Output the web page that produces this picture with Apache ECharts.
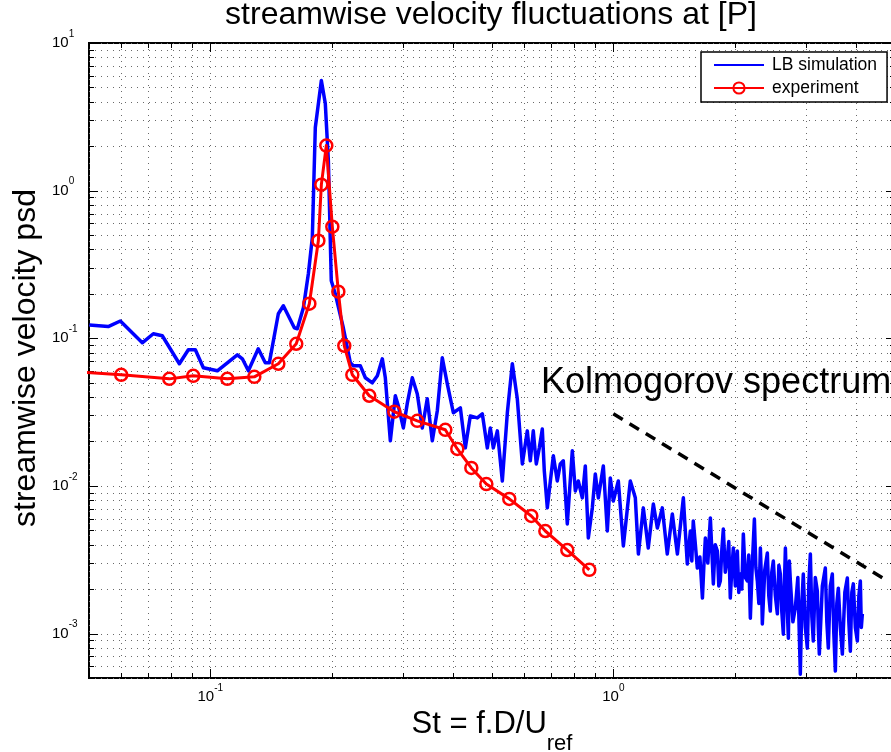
<!DOCTYPE html>
<html><head><meta charset="utf-8">
<script src="https://cdn.jsdelivr.net/npm/echarts@6/dist/echarts.min.js"></script>
<style>html,body{margin:0;padding:0;background:#fff}#c{width:891px;height:752px}</style>
</head><body><div id="c"></div>
<script>
// ---- data ----
const titleText = 'streamwise velocity fluctuations at [P]';
const yName = 'streamwise velocity psd';
const annotation = 'Kolmogorov spectrum';
const seriesNames = ['LB simulation', 'experiment'];

// LB simulation: [St, psd]
const lbSimulation = [
[0.0501,0.123],[0.0558,0.120],[0.0598,0.131],[0.0678,0.0932],[0.0722,0.1073],[0.0760,0.104],
[0.0838,0.0672],[0.0882,0.0836],[0.0918,0.0836],[0.0961,0.0631],[0.1041,0.0602],[0.1167,0.0773],
[0.1201,0.0726],[0.1243,0.0602],[0.1315,0.0849],[0.1369,0.0682],[0.1401,0.0682],[0.1475,0.1466],
[0.1518,0.1661],[0.1616,0.1178],[0.1644,0.116],[0.1702,0.161],[0.1751,0.2737],[0.1791,0.48],
[0.1822,2.674],[0.1886,5.57],[0.1929,3.89],[0.1963,1.597],[0.1996,0.2454],[0.2042,0.2003],
[0.2138,0.1178],[0.2226,0.0682],[0.2264,0.0651],[0.2357,0.0651],[0.2425,0.054],[0.2523,0.0499],
[0.2597,0.0557],[0.2672,0.0726],[0.2718,0.054],[0.2797,0.0202],[0.2878,0.0408],[0.2928,0.0349],
[0.3013,0.0247],[0.3083,0.0365],[0.3171,0.054],[0.3263,0.0420],[0.3357,0.0247],[0.3454,0.0389],
[0.3555,0.0202],[0.3658,0.0323],[0.3764,0.0738],[0.3873,0.0491],[0.4009,0.0313],[0.4173,0.0338],
[0.4293,0.0181],[0.4417,0.0298],[0.4597,0.0289],[0.4731,0.0308],[0.4868,0.0181],[0.4952,0.0247],
[0.5038,0.0181],[0.5155,0.0236],[0.5304,0.0108],[0.5458,0.0313],[0.5616,0.0672],[0.5778,0.0389],
[0.5946,0.0141],[0.6118,0.0236],[0.6223,0.0148],[0.6330,0.0236],[0.6440,0.0141],[0.6552,0.0181],
[0.6665,0.0243],[0.6742,0.0126],[0.6859,0.0071],[0.6979,0.0108],[0.7099,0.0160],[0.7261,0.0108],
[0.7387,0.0141],[0.7515,0.0148],[0.7688,0.00553],[0.7911,0.0173],[0.8049,0.00925],[0.8187,0.0108],
[0.8376,0.0083],[0.8521,0.01366],[0.8669,0.00444],[0.8869,0.0071],[0.9022,0.01206],[0.9180,0.0083],
[0.9445,0.01366],[0.9663,0.00495],[0.9830,0.01133],[1.000,0.00791],[1.029,0.0108],[1.059,0.00392],
[1.102,0.0108],[1.134,0.0083],[1.154,0.00346],[1.187,0.0071],[1.221,0.0038],[1.257,0.00755],
[1.286,0.00519],[1.323,0.0071],[1.361,0.00346],[1.401,0.00646],[1.442,0.00346],[1.492,0.0083],
[1.526,0.00296],[1.553,0.00495],[1.566,0.0031],[1.579,0.00579],[1.597,0.0041],[1.616,0.00278],
[1.640,0.0033],[1.664,0.00174],[1.678,0.0029],[1.692,0.00444],[1.716,0.0030],[1.741,0.00607],
[1.756,0.0036],[1.771,0.00217],[1.790,0.0040],[1.812,0.00362],[1.827,0.0021],[1.843,0.00227],
[1.859,0.0037],[1.875,0.00511],[1.896,0.0026],[1.918,0.00325],[1.934,0.0042],[1.951,0.00174],
[1.968,0.0027],[1.985,0.0038],[2.008,0.0021],[2.031,0.00362],[2.048,0.0019],[2.066,0.00253],
[2.084,0.0020],[2.102,0.00473],[2.126,0.0024],[2.150,0.00227],[2.168,0.0034],[2.188,0.00127],
[2.213,0.0030],[2.239,0.00597],[2.258,0.0028],[2.277,0.00227],[2.297,0.0016],[2.317,0.0038],
[2.330,0.0024],[2.343,0.00116],[2.376,0.0027],[2.411,0.00351],[2.431,0.0018],[2.452,0.00142],
[2.473,0.0026],[2.495,0.0031],[2.524,0.0018],[2.553,0.00136],[2.575,0.0029],[2.597,0.00253],
[2.619,0.0014],[2.642,0.00099],[2.657,0.0021],[2.673,0.0038],[2.696,0.0017],[2.719,0.00093],
[2.734,0.0031],[2.750,0.00227],[2.790,0.0012],[2.829,0.00149],[2.870,0.0024],[2.911,0.000531],
[2.936,0.0016],[2.961,0.00253],[2.995,0.0011],[3.030,0.000797],[3.056,0.0022],[3.083,0.00346],
[3.109,0.0013],[3.135,0.00089],[3.171,0.0024],[3.208,0.00194],[3.226,0.0011],[3.245,0.000726],
[3.301,0.0021],[3.358,0.00278],[3.387,0.0012],[3.416,0.000797],[3.455,0.0021],[3.495,0.00253],
[3.525,0.0010],[3.556,0.000557],[3.586,0.0016],[3.617,0.00203],[3.659,0.0011],[3.701,0.000726],
[3.754,0.0019],[3.808,0.00238],[3.841,0.0012],[3.874,0.00076],[3.907,0.0019],[3.941,0.00217],
[3.986,0.0011],[4.032,0.00089],[4.067,0.0018],[4.102,0.00227],[4.125,0.0011],[4.149,0.00136]
];

// experiment: [St, psd]
const experiment = [
[0.045,0.0597],[0.0601,0.0566],[0.0791,0.0531],[0.0907,0.0557],[0.1102,0.0531],[0.1286,0.0548],
[0.1475,0.0672],[0.1634,0.0918],[0.1761,0.1714],[0.1854,0.458],[0.1886,1.098],[0.194,2.019],
[0.2008,0.570],[0.2078,0.2067],[0.2150,0.0890],[0.2251,0.0566],[0.2480,0.0408],[0.2861,0.0318],
[0.3263,0.0276],[0.3829,0.0240],[0.4101,0.0178],[0.4443,0.01324],[0.4841,0.0103],[0.5519,0.00817],
[0.6259,0.00626],[0.6781,0.00495],[0.7688,0.00368],[0.8719,0.00270]
];

// Kolmogorov -5/3 reference line
const kolmogorov = [[1.0,0.0308],[4.65,0.00239]];

// axis ranges
const xRange = [0.05, 5];
const yRange = [0.0005, 10];

// grid / tick positions (1..9 x 10^k inside the ranges)
function decadeTicks(lo, hi){
  const out = [];
  for (let e = -5; e <= 2; e++) for (let m = 1; m <= 9; m++) {
    const v = +(m * Math.pow(10, e)).toPrecision(3);
    if (v >= lo * 0.9999 && v <= hi * 1.0001) out.push(v);
  }
  return out;
}
const xTicks = decadeTicks(xRange[0], xRange[1]);
const yTicks = decadeTicks(yRange[0], yRange[1]);

const FONT = '"Liberation Sans", Arial, Helvetica, sans-serif';
function isPow10(v){ const e = Math.log10(v); return Math.abs(e - Math.round(e)) < 1e-6; }
function powLabel(v){
  if (!isPow10(v)) return '';
  return '{b|10}{s|' + Math.round(Math.log10(v)) + '}';
}
const labelRich = {
  b: {fontSize: 15, fontFamily: FONT, color: '#000'},
  s: {fontSize: 10, fontFamily: FONT, color: '#000', padding: [0, 0, 18, 0]}
};

const gridStyle = {stroke: '#6a6a6a', lineWidth: 1, lineDash: [1, 5]};

const chart = echarts.init(document.getElementById('c'), null, {renderer: 'canvas'});
chart.setOption({
  animation: false,
  backgroundColor: '#fff',
  grid: {left: 89, top: 43, right: -4, bottom: 74, show: true, borderColor: '#000', borderWidth: 2,
         backgroundColor: 'rgba(0,0,0,0)', containLabel: false, outerBoundsMode: 'none'},
  xAxis: {
    type: 'log', logBase: 10, min: xRange[0], max: xRange[1],
    axisLine: {show: false}, axisTick: {show: false}, splitLine: {show: false},
    axisLabel: {margin: 5, formatter: powLabel, rich: labelRich, showMinLabel: true, showMaxLabel: true},
    name: '{a|St = f.D/U}{s|ref}', nameLocation: 'middle', nameGap: 27,
    nameTextStyle: {rich: {
      a: {fontSize: 31, fontFamily: FONT, color: '#000', verticalAlign: 'top'},
      s: {fontSize: 22, fontFamily: FONT, color: '#000', lineHeight: 46, verticalAlign: 'bottom'}
    }}
  },
  yAxis: {
    type: 'log', logBase: 10, min: yRange[0], max: yRange[1],
    axisLine: {show: false}, axisTick: {show: false}, splitLine: {show: false},
    axisLabel: {margin: 37, align: 'left', formatter: powLabel, rich: labelRich, showMinLabel: true, showMaxLabel: true}
  },
  legend: {
    data: seriesNames, orient: 'vertical', left: 701, top: 52,
    backgroundColor: '#fff', borderColor: '#000', borderWidth: 1.5, borderRadius: 0,
    padding: [4, 10, 5, 12], itemGap: 5, itemWidth: 50, itemHeight: 14,
    textStyle: {fontSize: 17.5, fontFamily: FONT, color: '#000', padding: [0, 0, 0, 3]}
  },
  graphic: [
    {type: 'text', x: 491, y: 15, style: {text: titleText, fontSize: 32, fontFamily: FONT, fill: '#000', align: 'center', verticalAlign: 'middle'}},
    {type: 'text', x: 26, y: 358, rotation: Math.PI / 2, style: {text: yName, fontSize: 32, fontFamily: FONT, fill: '#000', align: 'center', verticalAlign: 'middle'}},
    {type: 'text', x: 541, y: 383, z: 10, style: {text: annotation, fontSize: 36, fontFamily: FONT, fill: '#000', align: 'left', verticalAlign: 'middle'}}
  ],
  series: [
    { // vertical grid lines + x ticks
      type: 'custom', silent: true, z: 1, clip: false,
      data: xTicks.map(v => [v, 1]), encode: {x: 0, y: 1},
      renderItem(params, api){
        const cs = params.coordSys;
        const v = api.value(0);
        const px = Math.round(api.coord([v, 1])[0]) + 0.5;
        const tl = isPow10(v) ? 9 : 5;
        const bot = cs.y + cs.height, top = cs.y;
        return {type: 'group', children: [
          {type: 'line', shape: {x1: px, y1: top, x2: px, y2: bot}, style: gridStyle},
          {type: 'line', shape: {x1: px, y1: bot, x2: px, y2: bot - tl}, style: {stroke: '#000', lineWidth: 1}},
          {type: 'line', shape: {x1: px, y1: top, x2: px, y2: top + tl}, style: {stroke: '#000', lineWidth: 1}}
        ]};
      }
    },
    { // horizontal grid lines + y ticks
      type: 'custom', silent: true, z: 1, clip: false,
      data: yTicks.map(v => [0.1, v]), encode: {x: 0, y: 1},
      renderItem(params, api){
        const cs = params.coordSys;
        const v = api.value(1);
        const py = Math.round(api.coord([0.1, v])[1]) + 0.5;
        const tl = isPow10(v) ? 9 : 5;
        const l = cs.x, r = cs.x + cs.width;
        return {type: 'group', children: [
          {type: 'line', shape: {x1: l, y1: py, x2: r, y2: py}, style: gridStyle},
          {type: 'line', shape: {x1: l, y1: py, x2: l + tl, y2: py}, style: {stroke: '#000', lineWidth: 1}},
          {type: 'line', shape: {x1: r, y1: py, x2: r - tl, y2: py}, style: {stroke: '#000', lineWidth: 1}}
        ]};
      }
    },
    {
      name: seriesNames[0], type: 'line', data: lbSimulation, symbol: 'none', z: 3,
      lineStyle: {color: '#0000ff', width: 3.5, join: 'round'},
      itemStyle: {color: 'rgba(0,0,255,0)', borderWidth: 0}
    },
    {
      name: seriesNames[1], type: 'line', data: experiment, z: 4,
      symbol: 'circle', symbolSize: 12, showSymbol: true,
      lineStyle: {color: '#ff0000', width: 3, join: 'round'},
      itemStyle: {color: 'rgba(255,0,0,0)', borderColor: '#ff0000', borderWidth: 2.5}
    },
    {
      name: 'Kolmogorov', type: 'line', data: kolmogorov, symbol: 'none', z: 3,
      lineStyle: {color: '#000', width: 3.5, type: [11, 8]}
    }
  ]
});
</script></body></html>
